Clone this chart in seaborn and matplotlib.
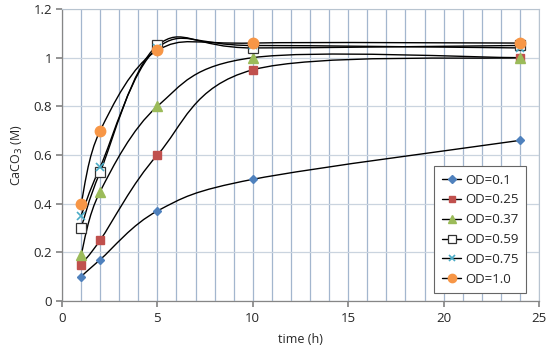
import numpy as np
import matplotlib
matplotlib.use("Agg")
import matplotlib.pyplot as plt
import seaborn as sns
from matplotlib.path import Path
from matplotlib.patches import PathPatch
from matplotlib.lines import Line2D

sns.set_theme(style="white")
plt.rcParams['font.family'] = ['Open Sans', 'DejaVu Sans']

time_h = [1, 2, 5, 10, 24]
od_labels = ["OD=0.1", "OD=0.25", "OD=0.37", "OD=0.59", "OD=0.75", "OD=1.0"]
od_01 = [0.10, 0.17, 0.37, 0.50, 0.66]
od_025 = [0.15, 0.25, 0.60, 0.95, 1.00]
od_037 = [0.19, 0.45, 0.80, 1.00, 1.00]
od_059 = [0.30, 0.53, 1.05, 1.04, 1.05]
od_075 = [0.35, 0.55, 1.04, 1.05, 1.04]
od_10 = [0.40, 0.70, 1.03, 1.06, 1.06]
series = [od_01, od_025, od_037, od_059, od_075, od_10]

styles = [
    dict(marker="D", ms=4.5, mfc="#4F81BD", mec="#4F81BD"),
    dict(marker="s", ms=6, mfc="#C0504D", mec="#C0504D"),
    dict(marker="^", ms=6.5, mfc="#9BBB59", mec="#9BBB59"),
    dict(marker="s", ms=7.5, mfc="white", mec="#333333", mew=0.9),
    dict(marker="x", ms=6, mfc="#4BACC6", mec="#4BACC6", mew=1.2),
    dict(marker="o", ms=7.5, mfc="#F79646", mec="#F79646"),
]


def smooth_path(xs, ys):
    # Excel-like smoothed line: cubic Bezier segments between data points
    pts = np.column_stack([xs, ys]).astype(float)
    n = len(pts)
    verts = [pts[0]]
    codes = [Path.MOVETO]
    for i in range(n - 1):
        p0 = pts[max(i - 1, 0)]
        p1 = pts[i]
        p2 = pts[i + 1]
        p3 = pts[min(i + 2, n - 1)]
        c1 = p1 + (p2 - p0) / 6.0
        c2 = p2 - (p3 - p1) / 6.0
        verts += [c1, c2, p2]
        codes += [Path.CURVE4] * 3
    return Path(verts, codes)


fig, ax = plt.subplots(figsize=(5.5, 3.54), dpi=100)
fig.subplots_adjust(left=0.1127, right=0.98, top=0.9746, bottom=0.1497)

ax.set_xlim(0, 25)
ax.set_ylim(0, 1.2)
ax.set_xticks(np.arange(0, 26, 5))
ax.set_xticks(np.arange(0, 26, 1), minor=True)
ax.set_yticks(np.arange(0, 1.21, 0.2))
ax.set_yticklabels(["0", "0.2", "0.4", "0.6", "0.8", "1", "1.2"])
ax.grid(which="minor", axis="x", color="#A3B6CE", lw=0.9)
ax.grid(which="major", axis="x", color="#A3B6CE", lw=0.9)
ax.grid(which="major", axis="y", color="#CAD4DF", lw=0.9)
ax.set_axisbelow(True)

for sp in ["top", "right"]:
    ax.spines[sp].set_color("#B8C4D0")
    ax.spines[sp].set_linewidth(0.8)
for sp in ["left", "bottom"]:
    ax.spines[sp].set_color("#868686")
    ax.spines[sp].set_linewidth(0.9)

ax.tick_params(axis="x", which="major", direction="out", length=4, color="#868686",
               bottom=True, labelsize=9.5, pad=4)
ax.tick_params(axis="x", which="minor", length=0)
ax.tick_params(axis="y", direction="out", length=4, color="#868686", left=True,
               labelsize=9.5, pad=3)

handles = []
for ys, st, lab in zip(series, styles, od_labels):
    ax.add_patch(PathPatch(smooth_path(time_h, ys), facecolor="none",
                           edgecolor="black", lw=1.0, zorder=3))
    ax.plot(time_h, ys, ls="none", zorder=4, **st)
    handles.append(Line2D([], [], color="black", lw=1.0, **st))

ax.set_xlabel("time (h)", fontsize=9, labelpad=6)
ax.set_ylabel("CaCO$_3$ (M)", fontsize=9, labelpad=6)

leg = ax.legend(handles, od_labels, loc="lower right", bbox_to_anchor=(0.973, 0.027),
                fontsize=9.5, frameon=True, fancybox=False, handlelength=1.5,
                handletextpad=0.3, labelspacing=0.52, borderpad=0.55, borderaxespad=0)
leg.get_frame().set_edgecolor("#666666")
leg.get_frame().set_linewidth(0.8)
leg.get_frame().set_facecolor("white")
leg.get_frame().set_alpha(1)
for h in leg.legend_handles:
    h.set_markersize(h.get_markersize() * 0.8)

fig.savefig("out.png", dpi=100)
